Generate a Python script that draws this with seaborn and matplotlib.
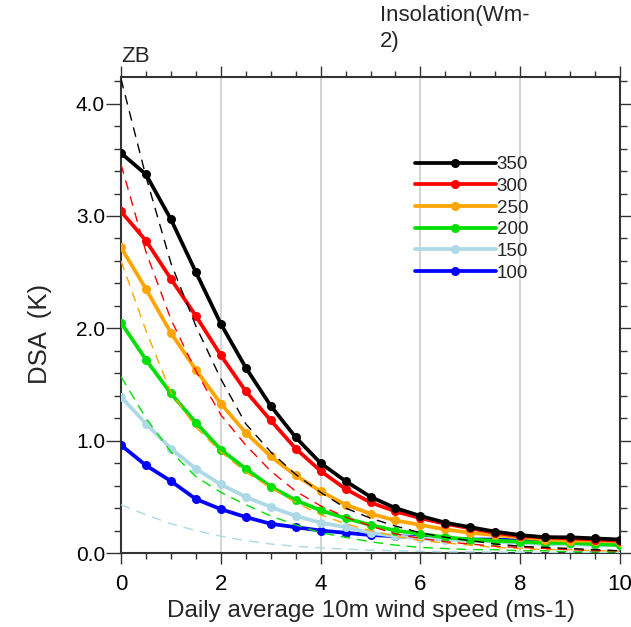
import numpy as np
import pandas as pd
import matplotlib
matplotlib.use("Agg")
import matplotlib.pyplot as plt
from matplotlib.lines import Line2D
from matplotlib.ticker import MultipleLocator, FormatStrFormatter
import seaborn as sns

# ---------------- data ----------------
wind = [0.0, 0.5, 1.0, 1.5, 2.0, 2.5, 3.0, 3.5, 4.0, 4.5, 5.0,
        5.5, 6.0, 6.5, 7.0, 7.5, 8.0, 8.5, 9.0, 9.5, 10.0]

insolation = ["350", "300", "250", "200", "150", "100"]
colors = ["black", "red", "orange", "#00e000", "lightblue", "blue"]

dsa_350 = [3.56, 3.37, 2.97, 2.50, 2.04, 1.65, 1.31, 1.03, 0.80, 0.64, 0.50,
           0.40, 0.33, 0.27, 0.23, 0.19, 0.16, 0.14, 0.14, 0.13, 0.12]
dsa_300 = [3.04, 2.78, 2.44, 2.11, 1.76, 1.44, 1.18, 0.93, 0.73, 0.57, 0.45,
           0.37, 0.31, 0.26, 0.22, 0.18, 0.15, 0.14, 0.13, 0.12, 0.11]
dsa_250 = [2.72, 2.35, 1.96, 1.63, 1.33, 1.07, 0.86, 0.69, 0.55, 0.43, 0.35,
           0.29, 0.25, 0.21, 0.18, 0.16, 0.14, 0.12, 0.11, 0.11, 0.10]
dsa_200 = [2.05, 1.72, 1.42, 1.16, 0.92, 0.75, 0.59, 0.47, 0.38, 0.31, 0.25,
           0.20, 0.17, 0.14, 0.12, 0.11, 0.10, 0.09, 0.09, 0.08, 0.07]
dsa_150 = [1.39, 1.15, 0.93, 0.75, 0.61, 0.50, 0.41, 0.33, 0.27, 0.23, 0.18,
           0.15, 0.13, 0.12, 0.11, 0.10, 0.09, 0.08, 0.08, 0.07, 0.07]
dsa_100 = [0.96, 0.78, 0.64, 0.48, 0.39, 0.32, 0.26, 0.23, 0.20, 0.18, 0.16,
           0.15, 0.14, 0.13, 0.12, 0.12, 0.11, 0.10, 0.10, 0.09, 0.09]

# dashed reference curves
fit_350 = [4.22, 3.35, 2.58, 2.02, 1.55, 1.15, 0.90, 0.70, 0.54, 0.40, 0.31,
           0.24, 0.18, 0.14, 0.11, 0.08, 0.06, 0.05, 0.04, 0.03, 0.02]
fit_300 = [3.46, 2.68, 2.08, 1.62, 1.23, 0.96, 0.73, 0.55, 0.42, 0.32, 0.24,
           0.17, 0.13, 0.10, 0.08, 0.06, 0.05, 0.04, 0.03, 0.02, 0.02]
fit_250 = [2.60, 1.98, 1.43, 1.12, 0.90, 0.72, 0.58, 0.45, 0.34, 0.26, 0.20,
           0.15, 0.11, 0.09, 0.07, 0.05, 0.04, 0.03, 0.03, 0.02, 0.02]
fit_200 = [1.57, 1.20, 0.90, 0.68, 0.54, 0.43, 0.33, 0.25, 0.18, 0.14, 0.10,
           0.07, 0.05, 0.04, 0.03, 0.03, 0.02, 0.02, 0.01, 0.01, 0.01]
fit_150 = [0.43, 0.34, 0.26, 0.20, 0.15, 0.11, 0.08, 0.06, 0.045, 0.035, 0.025,
           0.02, 0.015, 0.01, 0.01, 0.008, 0.006, 0.005, 0.004, 0.003, 0.003]

solid = {"350": dsa_350, "300": dsa_300, "250": dsa_250,
         "200": dsa_200, "150": dsa_150, "100": dsa_100}
dashed = {"350": fit_350, "300": fit_300, "250": fit_250,
          "200": fit_200, "150": fit_150}

xticks = [0, 2, 4, 6, 8, 10]
yticks = [0.0, 1.0, 2.0, 3.0, 4.0]

df_s = pd.DataFrame([(w, v, k) for k, vals in solid.items() for w, v in zip(wind, vals)],
                    columns=["wind", "dsa", "ins"])
df_d = pd.DataFrame([(w, v, k) for k, vals in dashed.items() for w, v in zip(wind, vals)],
                    columns=["wind", "dsa", "ins"])
pal = dict(zip(insolation, colors))

# ---------------- plot ----------------
sns.set_style("white")
plt.rcParams["font.family"] = ["Liberation Sans", "DejaVu Sans"]

fig = plt.figure(figsize=(6.31, 6.27), dpi=100)
ax = fig.add_axes([0.1918, 0.118, 0.7908, 0.7597])

for xv in [2, 4, 6, 8]:
    ax.axvline(xv, color="#d4d4d4", lw=1.4, zorder=0)

order_draw = insolation[::-1]
for k in order_draw:
    sub = df_s[df_s["ins"] == k]
    sns.lineplot(data=sub, x="wind", y="dsa", color=pal[k], lw=2.7,
                 marker="o", markersize=6.5, markeredgewidth=0, ax=ax,
                 legend=False, zorder=3)
for k in order_draw[1:]:
    sub = df_d[df_d["ins"] == k]
    sns.lineplot(data=sub, x="wind", y="dsa", color=pal[k], lw=1.0,
                 ax=ax, legend=False, zorder=4,
                 linestyle=(0, (7, 5)))

ax.set_xlim(0, 10)
ax.set_ylim(0, 4.24)
ax.set_xticks(xticks)
ax.set_yticks(yticks)
ax.xaxis.set_minor_locator(MultipleLocator(0.5))
ax.yaxis.set_minor_locator(MultipleLocator(0.2))
ax.yaxis.set_major_formatter(FormatStrFormatter("%.1f"))
ax.tick_params(which="both", direction="out", top=True, right=True,
               bottom=True, left=True, color="#333333", width=1.0,
               colors="#333333", labelcolor="black")
ax.tick_params(axis="x", which="major", length=8, pad=7, labelsize=16)
ax.tick_params(axis="x", which="minor", length=4)
ax.tick_params(axis="y", which="major", length=11, pad=0.5, labelsize=15)
ax.tick_params(axis="y", which="minor", length=5)
for s in ax.spines.values():
    s.set_visible(True)
    s.set_color("#333333")
    s.set_linewidth(1.5)

ax.set_xlabel("Daily average 10m wind speed (ms-1)", fontsize=17.5, labelpad=4)
ax.set_ylabel("DSA  (K)", fontsize=18.5)
ax.yaxis.set_label_coords(-0.138, 0.46)
ax.text(0.0, 1.03, "ZB", transform=ax.transAxes, fontsize=16,
        ha="left", va="baseline")
fig.text(380 / 631, 1 - 5 / 627, "Insolation(Wm-\n2)", fontsize=16,
         ha="left", va="top", linespacing=1.3)

handles = [Line2D([0], [0], color=c, lw=2.7, marker="o", markersize=6.5,
                  markeredgewidth=0) for c in colors]
ax.legend(handles, insolation, loc="upper left",
          bbox_to_anchor=((415 - 121) / 499, (553 - 156) / 476.3),
          frameon=False, fontsize=13.5, handlelength=4.3, handletextpad=0.05,
          labelspacing=0.245, borderpad=0, borderaxespad=0, numpoints=1)

fig.savefig("out.png", dpi=100)
